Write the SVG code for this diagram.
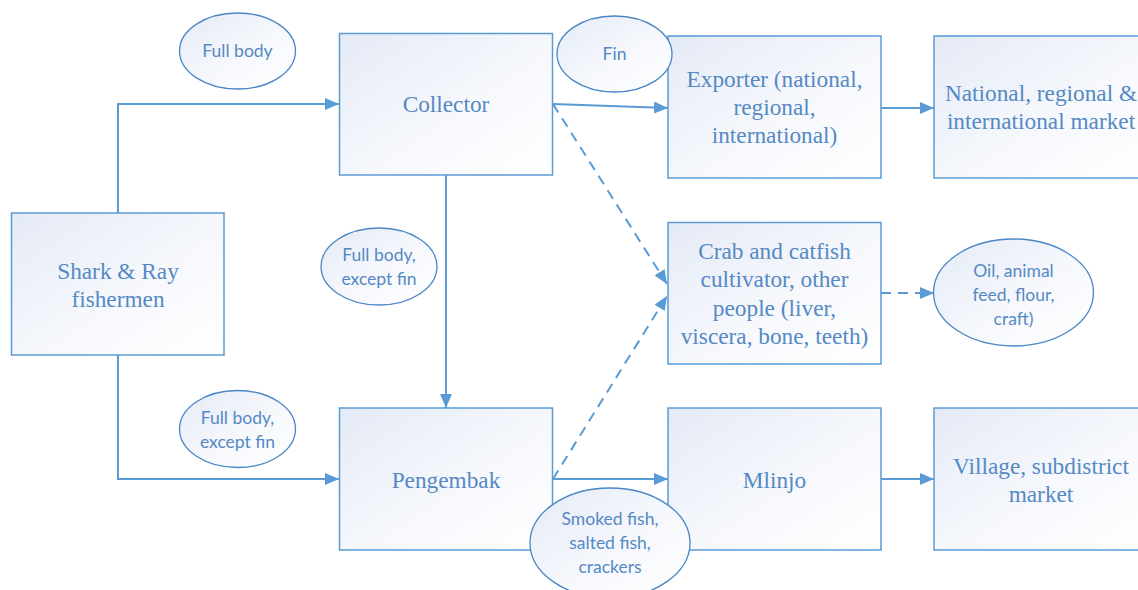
<svg xmlns="http://www.w3.org/2000/svg" width="1138" height="590" viewBox="0 0 1138 590">
<defs>
<linearGradient id="g" x1="0" y1="0" x2="1" y2="1">
<stop offset="0" stop-color="#e4eaf6"/>
<stop offset="0.55" stop-color="#f6f8fc"/>
<stop offset="1" stop-color="#ffffff"/>
</linearGradient>
<marker id="ah" viewBox="0 0 14 12" refX="14" refY="6" markerWidth="14" markerHeight="12" markerUnits="userSpaceOnUse" orient="auto">
<path d="M0,0 L14,6 L0,12 z" fill="#5b9bd5"/>
</marker>
<style>
.box{fill:url(#g);stroke:#5b9bd5;stroke-width:1.5}
.ell{fill:url(#g);stroke:#4a86c5;stroke-width:1.3}
.t{font-family:"Liberation Serif",serif;font-size:23.3px;fill:#5589c4;text-anchor:middle}
.s{font-family:Lato,"Liberation Sans",sans-serif;font-size:17.5px;fill:#5589c4;text-anchor:middle}
.c{fill:none;stroke:#5b9bd5;stroke-width:2}
.d{fill:none;stroke:#5b9bd5;stroke-width:2;stroke-dasharray:10,7}
</style>
</defs>
<rect width="1138" height="590" fill="#ffffff"/>
<g id="connectors">
<path class="c" d="M118,213 V104 H339" marker-end="url(#ah)"/>
<path class="c" d="M118,355 V479 H339" marker-end="url(#ah)"/>
<path class="c" d="M446,175 V408" marker-end="url(#ah)"/>
<path class="c" d="M553,104 L668,108" marker-end="url(#ah)"/>
<path class="c" d="M881,108 H934" marker-end="url(#ah)"/>
<path class="c" d="M553,479 H668" marker-end="url(#ah)"/>
<path class="c" d="M881,479 H934" marker-end="url(#ah)"/>
<path class="d" d="M553,104 L667,284" marker-end="url(#ah)"/>
<path class="d" d="M553,479 L667,296" marker-end="url(#ah)"/>
<path class="d" d="M881,293 H934" marker-end="url(#ah)"/>
</g>
<g id="shark">
<rect class="box" x="11.5" y="213" width="212.5" height="142"/>
<text class="t" x="118" y="279">Shark &amp; Ray</text>
<text class="t" x="118" y="307">fishermen</text>
</g>
<g id="collector">
<rect class="box" x="339.5" y="33.5" width="213" height="141.5"/>
<text class="t" x="446" y="112">Collector</text>
</g>
<g id="pengembak">
<rect class="box" x="339.5" y="408" width="213" height="142"/>
<text class="t" x="446" y="488">Pengembak</text>
</g>
<g id="exporter">
<rect class="box" x="668" y="36" width="213" height="142"/>
<text class="t" x="774.5" y="87">Exporter (national,</text>
<text class="t" x="774.5" y="115">regional,</text>
<text class="t" x="774.5" y="143">international)</text>
</g>
<g id="national">
<rect class="box" x="934" y="36" width="213" height="142"/>
<text class="t" x="1041" y="101">National, regional &amp;</text>
<text class="t" x="1041" y="129">international market</text>
</g>
<g id="crab">
<rect class="box" x="668" y="222.5" width="213" height="141.5"/>
<text class="t" x="774.5" y="258.5">Crab and catfish</text>
<text class="t" x="774.5" y="287">cultivator, other</text>
<text class="t" x="774.5" y="315.5">people (liver,</text>
<text class="t" x="774.5" y="344">viscera, bone, teeth)</text>
</g>
<g id="mlinjo">
<rect class="box" x="668" y="408" width="213" height="142"/>
<text class="t" x="774.5" y="488">Mlinjo</text>
</g>
<g id="village">
<rect class="box" x="934" y="408" width="213" height="142"/>
<text class="t" x="1041" y="474">Village, subdistrict</text>
<text class="t" x="1041" y="502">market</text>
</g>
<g id="lbl-fullbody">
<ellipse class="ell" cx="237.5" cy="51" rx="58" ry="38"/>
<text class="s" x="237.5" y="57">Full body</text>
</g>
<g id="lbl-fin">
<ellipse class="ell" cx="614.5" cy="54" rx="57.5" ry="38"/>
<text class="s" x="614.5" y="60">Fin</text>
</g>
<g id="lbl-exceptfin1">
<ellipse class="ell" cx="379" cy="266.5" rx="58" ry="38.5"/>
<text class="s" x="379" y="261">Full body,</text>
<text class="s" x="379" y="285">except fin</text>
</g>
<g id="lbl-exceptfin2">
<ellipse class="ell" cx="237.5" cy="429" rx="58" ry="38.5"/>
<text class="s" x="237.5" y="424">Full body,</text>
<text class="s" x="237.5" y="448">except fin</text>
</g>
<g id="lbl-oil">
<ellipse class="ell" cx="1013.5" cy="292.5" rx="80" ry="53.5"/>
<text class="s" x="1013.5" y="276.5">Oil, animal</text>
<text class="s" x="1013.5" y="300.5">feed, flour,</text>
<text class="s" x="1013.5" y="324.5">craft)</text>
</g>
<g id="lbl-smoked">
<ellipse class="ell" cx="610" cy="543" rx="80" ry="55"/>
<text class="s" x="610" y="525">Smoked fish,</text>
<text class="s" x="610" y="549">salted fish,</text>
<text class="s" x="610" y="573">crackers</text>
</g>
</svg>
